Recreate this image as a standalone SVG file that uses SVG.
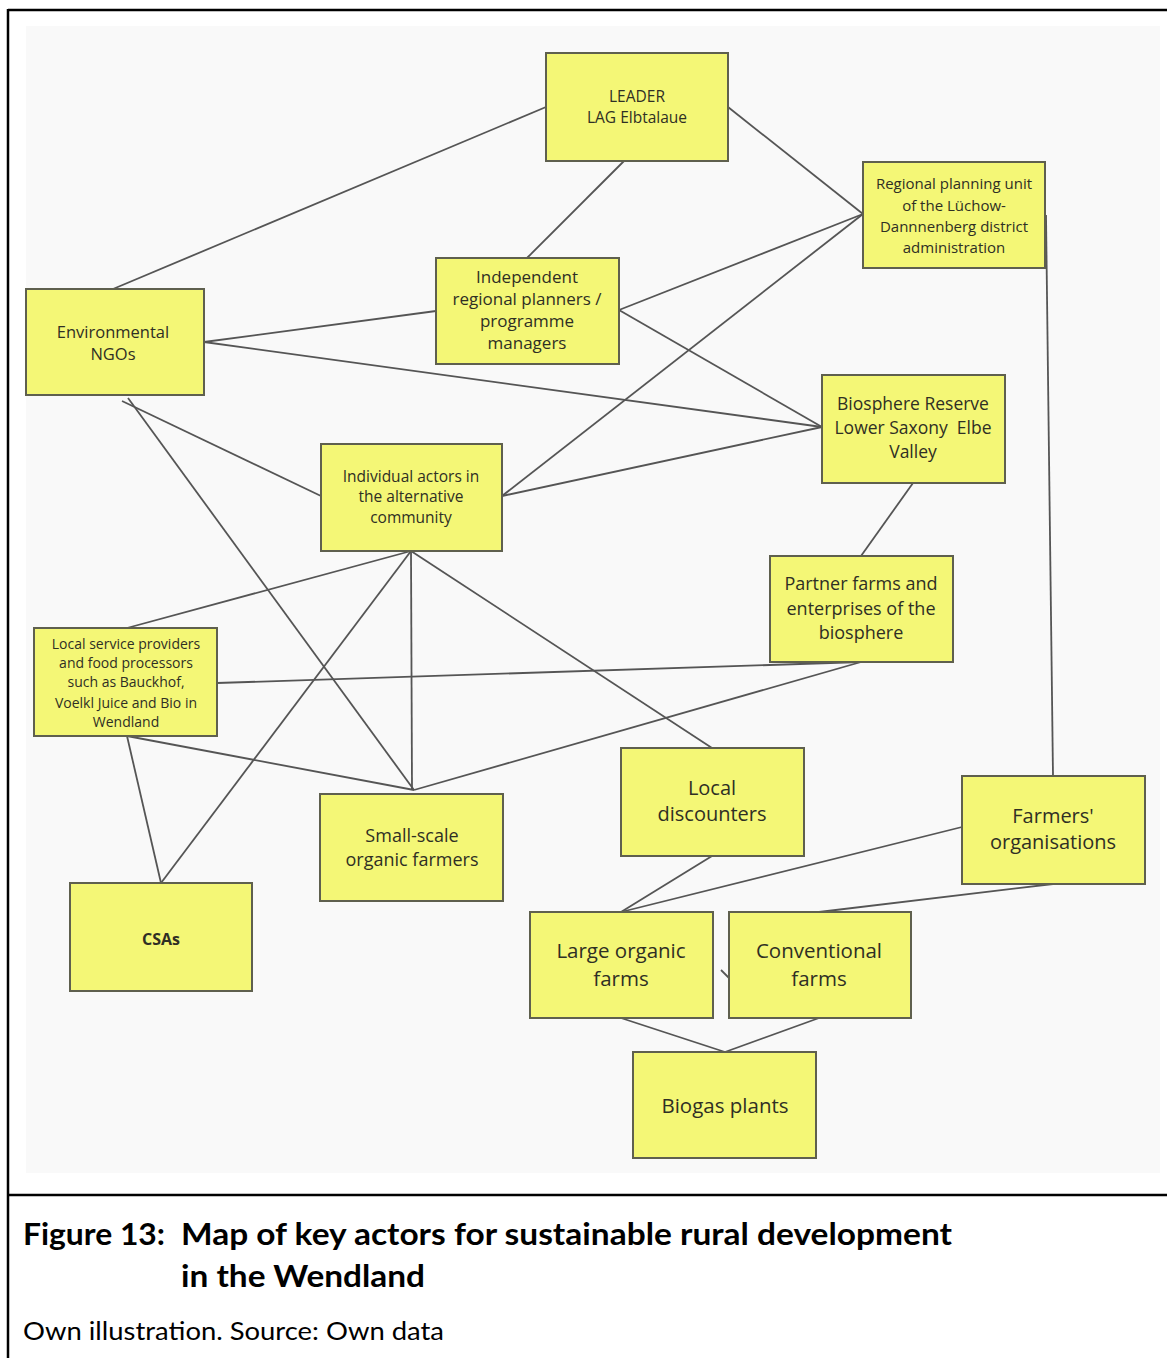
<svg xmlns="http://www.w3.org/2000/svg" width="1167" height="1358" viewBox="0 0 1167 1358">
  <style>
    .node rect { fill: #f4f776; stroke: #5f604e; stroke-width: 2; }
    .node text { font-family: "Open Sans", "Liberation Sans", sans-serif; fill: #2f2f24; text-anchor: middle; }
    .conn line { stroke: #555; stroke-width: 1.8; }
    .frame { stroke: #000; stroke-width: 2.5; fill: none; }
    .cap { font-family: Lato, "Liberation Sans", sans-serif; fill: #000; }
  </style>
  <rect x="0" y="0" width="1167" height="1358" fill="#ffffff"/>
  <rect x="26" y="26" width="1134" height="1147" fill="#f9f9f9"/>
  <g id="frame">
    <line class="frame" x1="8" y1="10" x2="1167" y2="10"/>
    <line class="frame" x1="8" y1="9" x2="8" y2="1358"/>
    <line class="frame" x1="8" y1="1195" x2="1167" y2="1195"/>
  </g>
  <g id="connectors" class="conn">
    <line x1="546" y1="107" x2="113" y2="289"/>
    <line x1="728" y1="107" x2="863" y2="214"/>
    <line x1="624" y1="161" x2="527" y2="258"/>
    <line x1="619" y1="310" x2="863" y2="214"/>
    <line x1="619" y1="310" x2="822" y2="427"/>
    <line x1="204" y1="342" x2="436" y2="311"/>
    <line x1="204" y1="342" x2="822" y2="427"/>
    <line x1="122" y1="401" x2="321" y2="496"/>
    <line x1="128" y1="398" x2="414" y2="790"/>
    <line x1="502" y1="496" x2="863" y2="214"/>
    <line x1="502" y1="496" x2="822" y2="427"/>
    <line x1="913" y1="483" x2="861" y2="556"/>
    <line x1="1046" y1="215" x2="1053" y2="776"/>
    <line x1="411" y1="551" x2="127" y2="628"/>
    <line x1="411" y1="551" x2="161" y2="883"/>
    <line x1="411" y1="551" x2="412" y2="790"/>
    <line x1="411" y1="551" x2="712" y2="748"/>
    <line x1="217" y1="683" x2="861" y2="662"/>
    <line x1="127" y1="736" x2="414" y2="790"/>
    <line x1="127" y1="736" x2="161" y2="883"/>
    <line x1="414" y1="790" x2="861" y2="662"/>
    <line x1="712" y1="856" x2="621" y2="912"/>
    <line x1="962" y1="827" x2="621" y2="912"/>
    <line x1="1053" y1="884" x2="819" y2="912"/>
    <line x1="621" y1="1018" x2="725" y2="1052"/>
    <line x1="819" y1="1018" x2="725" y2="1052"/>
    <line x1="721" y1="970" x2="729" y2="978"/>
  </g>
  <g id="leader" class="node">
    <rect x="546" y="53" width="182" height="108"/>
    <text x="637" y="102" font-size="15.5">LEADER</text>
    <text x="637" y="123" font-size="15.5">LAG Elbtalaue</text>
  </g>
  <g id="regional-planning" class="node">
    <rect x="863" y="162" width="182" height="106"/>
    <text x="954" y="189" font-size="15">Regional planning unit</text>
    <text x="954" y="211" font-size="15">of the Lüchow-</text>
    <text x="954" y="232" font-size="15">Dannnenberg district</text>
    <text x="954" y="253" font-size="15">administration</text>
  </g>
  <g id="env-ngos" class="node">
    <rect x="26" y="289" width="178" height="106"/>
    <text x="113" y="338" font-size="16.5">Environmental</text>
    <text x="113" y="360" font-size="16.5">NGOs</text>
  </g>
  <g id="independent-planners" class="node">
    <rect x="436" y="258" width="183" height="106"/>
    <text x="527" y="283" font-size="17">Independent</text>
    <text x="527" y="305" font-size="17">regional planners /</text>
    <text x="527" y="327" font-size="17">programme</text>
    <text x="527" y="349" font-size="17">managers</text>
  </g>
  <g id="biosphere-reserve" class="node">
    <rect x="822" y="375" width="183" height="108"/>
    <text x="913" y="410" font-size="17.5">Biosphere Reserve</text>
    <text x="913" y="434" font-size="17.5" xml:space="preserve">Lower Saxony  Elbe</text>
    <text x="913" y="458" font-size="17.5">Valley</text>
  </g>
  <g id="individual-actors" class="node">
    <rect x="321" y="444" width="181" height="107"/>
    <text x="411" y="482" font-size="15.5">Individual actors in</text>
    <text x="411" y="502" font-size="15.5">the alternative</text>
    <text x="411" y="523" font-size="15.5">community</text>
  </g>
  <g id="partner-farms" class="node">
    <rect x="770" y="556" width="183" height="106"/>
    <text x="861" y="590" font-size="18">Partner farms and</text>
    <text x="861" y="615" font-size="18">enterprises of the</text>
    <text x="861" y="639" font-size="18">biosphere</text>
  </g>
  <g id="local-service-providers" class="node">
    <rect x="34" y="628" width="183" height="108"/>
    <text x="126" y="649" font-size="14">Local service providers</text>
    <text x="126" y="668" font-size="14">and food processors</text>
    <text x="126" y="687" font-size="14">such as Bauckhof,</text>
    <text x="126" y="708" font-size="14">Voelkl Juice and Bio in</text>
    <text x="126" y="727" font-size="14">Wendland</text>
  </g>
  <g id="local-discounters" class="node">
    <rect x="621" y="748" width="183" height="108"/>
    <text x="712" y="795" font-size="20">Local</text>
    <text x="712" y="821" font-size="20">discounters</text>
  </g>
  <g id="farmers-organisations" class="node">
    <rect x="962" y="776" width="183" height="108"/>
    <text x="1053" y="823" font-size="20">Farmers'</text>
    <text x="1053" y="849" font-size="20">organisations</text>
  </g>
  <g id="small-scale-organic" class="node">
    <rect x="320" y="794" width="183" height="107"/>
    <text x="412" y="842" font-size="18">Small-scale</text>
    <text x="412" y="866" font-size="18">organic farmers</text>
  </g>
  <g id="csas" class="node">
    <rect x="70" y="883" width="182" height="108"/>
    <text x="161" y="945" font-size="16" font-weight="bold">CSAs</text>
  </g>
  <g id="large-organic-farms" class="node">
    <rect x="530" y="912" width="183" height="106"/>
    <text x="621" y="958" font-size="20.5">Large organic</text>
    <text x="621" y="986" font-size="20.5">farms</text>
  </g>
  <g id="conventional-farms" class="node">
    <rect x="729" y="912" width="182" height="106"/>
    <text x="819" y="958" font-size="20.5">Conventional</text>
    <text x="819" y="986" font-size="20.5">farms</text>
  </g>
  <g id="biogas-plants" class="node">
    <rect x="633" y="1052" width="183" height="106"/>
    <text x="725" y="1113" font-size="20.5">Biogas plants</text>
  </g>
  <g id="caption">
    <text class="cap" x="23" y="1245" font-size="30" font-weight="bold" textLength="142" lengthAdjust="spacingAndGlyphs">Figure 13:</text>
    <text class="cap" x="181" y="1245" font-size="30" font-weight="bold" textLength="771" lengthAdjust="spacingAndGlyphs">Map of key actors for sustainable rural development</text>
    <text class="cap" x="181" y="1287" font-size="30" font-weight="bold" textLength="244" lengthAdjust="spacingAndGlyphs">in the Wendland</text>
    <text class="cap" x="23" y="1340" font-size="25" textLength="421" lengthAdjust="spacingAndGlyphs">Own illustration. Source: Own data</text>
  </g>
</svg>
